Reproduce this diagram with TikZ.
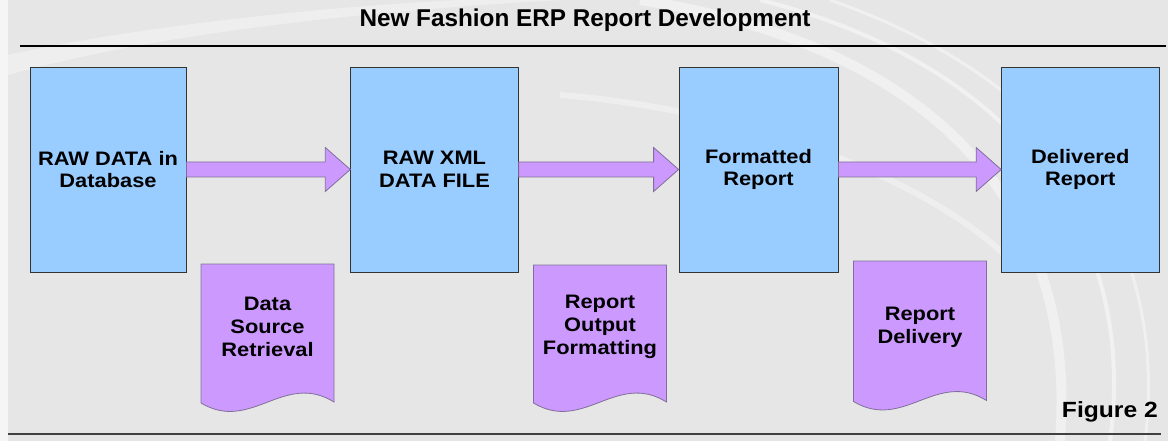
\documentclass[tikz,border=0pt]{standalone}
\usepackage{fontspec}
\setmainfont{Liberation Sans}[FakeStretch=1.12]
\newfontfamily\titlefont{Liberation Sans}
\usetikzlibrary{calc}
\definecolor{boxblue}{HTML}{99CCFF}
\definecolor{lilac}{HTML}{CC99FF}
\definecolor{lilacline}{HTML}{7F6F99}
\definecolor{bggray}{HTML}{E6E6E6}
\newcommand\mydoc[5]{%
  \path[docshape] (#2,#3) -- (#2,#4)
     .. controls ({#2+50},{#4+30}) and ({#2+83},{#4-32}) .. ({#2+133},{#4-1})
     -- ({#2+133},#3) -- cycle;
  \node[doctext] (#1) at ({#2+66.5},327) {#5};
}
\begin{document}
\begin{tikzpicture}[x=1pt,y=-1pt,
  stagebox/.style={draw=black!80, line width=0.8pt, fill=boxblue, inner sep=0pt,
     minimum height=205pt, align=center,
     font=\bfseries\fontsize{19.5}{22.7}\selectfont},
  docshape/.style={draw=lilacline, line width=0.8pt, fill=lilac},
  doctext/.style={align=center, inner sep=0pt, font=\bfseries\fontsize{19.5}{22.9}\selectfont},
  flowarrow/.style={draw=lilacline, line width=0.8pt, fill=lilac, line join=miter},
  rule/.style={line width=#1}
]
\useasboundingbox (0,0) rectangle (1168,441);
% background
\fill[bggray] (0,0) rectangle (1168,441);
\fill[white!60!bggray] (0,0) rectangle (8,441);
\fill[white, opacity=0.35] (8,75) .. controls (150,35) and (350,12) .. (560,0) -- (460,0) .. controls (300,8) and (120,30) .. (8,55) -- cycle;
\draw[white, opacity=0.4, line width=10pt] (640,0) .. controls (900,40) and (1080,180) .. (1060,441);
\draw[white, opacity=0.45, line width=4pt] (760,0) .. controls (1000,60) and (1140,220) .. (1110,441);
\draw[white, opacity=0.4, line width=3pt] (830,0) .. controls (1060,80) and (1170,240) .. (1145,441);
\draw[white, opacity=0.35, line width=6pt] (560,95) .. controls (750,110) and (930,180) .. (1010,260);
% title and rules
\node[font=\titlefont\bfseries\fontsize{24.3}{26}\selectfont, inner sep=0pt] (title) at (585,20) {New Fashion ERP Report Development};
\coordinate (tl) at (20,45.7);
\coordinate (tr) at (1166,45.7);
\draw[rule=2pt, black] (tl) -- (tr);
\coordinate (bl) at (8,434);
\coordinate (br) at (1161,434);
\draw[rule=1.3pt, black!75] (bl) -- (br);
% stage boxes
\node[stagebox, minimum width=156pt] (b1) at (108,169.5) {RAW DATA in\\Database};
\node[stagebox, minimum width=167.6pt] (b2) at (434.5,169.5) {RAW XML\\DATA FILE};
\node[stagebox, minimum width=159pt] (b3) at (758.5,169.5) {Formatted\\Report};
\node[stagebox, minimum width=157.5pt] (b4) at (1080.3,169.5) {Delivered\\Report};
% block arrows
\foreach \a/\b in {b1/b2, b2/b3, b3/b4}{
  \draw[flowarrow] let \p1=(\a.east), \p2=(\b.west) in
    (\x1,\y1+7.5pt) -- (\x2-25pt,\y1+7.5pt) -- (\x2-25pt,\y1+22pt) -- (\x2,\y2)
    -- (\x2-25pt,\y1-22pt) -- (\x2-25pt,\y1-7.5pt) -- (\x1,\y1-7.5pt) -- cycle;
}
% documents
\mydoc{d1}{201}{264}{403}{Data\\Source\\Retrieval}
\mydoc{d2}{533.5}{265}{403}{Report\\Output\\Formatting}
\mydoc{d3}{853.5}{261}{401.5}{Report\\Delivery}
% figure label
\node[font=\bfseries\fontsize{22}{24}\selectfont, anchor=base east, inner sep=0pt] (fig) at (1158,417) {Figure 2};
\end{tikzpicture}
\end{document}
